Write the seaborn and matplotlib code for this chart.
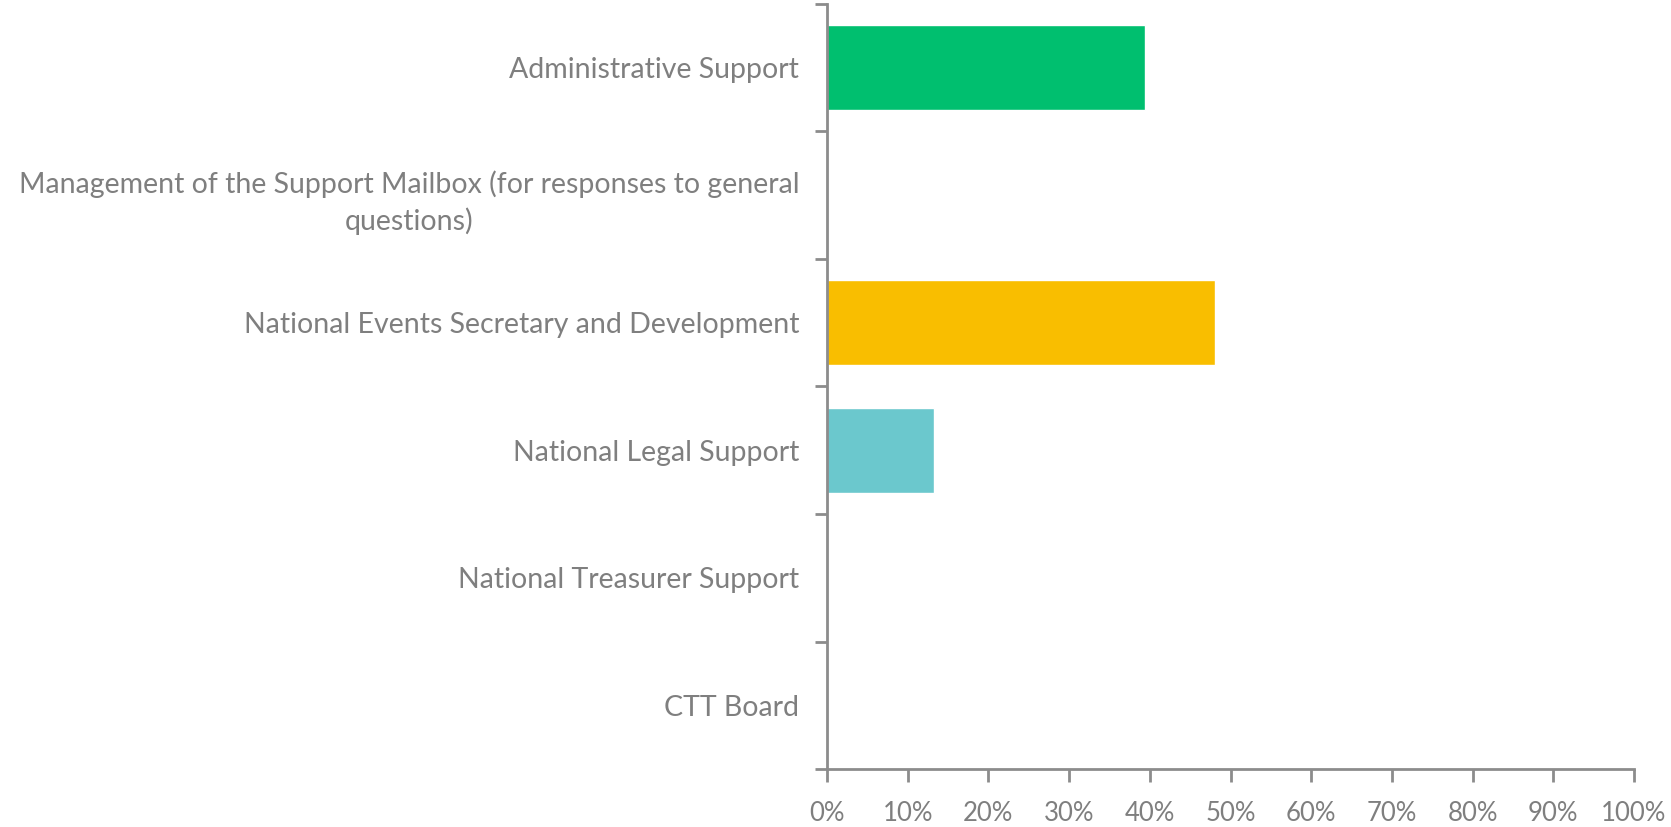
import numpy as np
import pandas as pd
import seaborn as sns
import matplotlib.pyplot as plt
from matplotlib.ticker import FixedLocator, PercentFormatter

# Data
categories = [
    "Administrative Support",
    "Management of the Support Mailbox (for responses to general\nquestions)",
    "National Events Secretary and Development",
    "National Legal Support",
    "National Treasurer Support",
    "CTT Board",
]
shares = [39.4, 0.0, 48.1, 13.2, 0.0, 0.0]
bar_colors = ["#00BF6F", "#A05EB5", "#F9BE00", "#6BC8CD", "#FF8B4F", "#7D8CA8"]

GREY = "#7F7F7F"
AXIS_GREY = "#8C8C8C"

df = pd.DataFrame({"category": categories, "share": shares})

sns.set_theme(style="white")
plt.rcParams["font.family"] = ["Lato", "DejaVu Sans"]

fig = plt.figure(figsize=(16.71, 8.27), dpi=100)
ax = fig.add_axes([827 / 1671, 1 - 769 / 827, (1634 - 827) / 1671, (769 - 4) / 827])

sns.barplot(data=df, x="share", y="category", hue="category",
            palette=dict(zip(categories, bar_colors)), width=0.67,
            orient="h", legend=False, saturation=1, ax=ax)

ax.set_xlim(0, 100)
ax.set_ylim(len(categories) - 0.5, -0.5)
ax.set_xticks(np.arange(0, 101, 10))
ax.xaxis.set_major_formatter(PercentFormatter(decimals=0))
ax.set_xlabel("")
ax.set_ylabel("")

# category boundaries carry the tick marks, labels sit in between
ax.yaxis.set_minor_locator(FixedLocator(np.arange(-0.5, len(categories), 1)))
ax.tick_params(axis="y", which="major", length=0, pad=20, labelsize=20.5, labelcolor=GREY)
ax.tick_params(axis="y", which="minor", left=True, length=9, width=2, color=AXIS_GREY)
ax.tick_params(axis="x", which="major", bottom=True, length=9, width=2, color=AXIS_GREY,
               pad=14, labelsize=18.5, labelcolor=GREY)
for lab in ax.get_yticklabels():
    lab.set_multialignment("center")
    lab.set_linespacing(1.42)

for side in ["top", "right"]:
    ax.spines[side].set_visible(False)
for side in ["left", "bottom"]:
    ax.spines[side].set_color(AXIS_GREY)
    ax.spines[side].set_linewidth(2)

fig.savefig("out.png", dpi=100, facecolor="white")
